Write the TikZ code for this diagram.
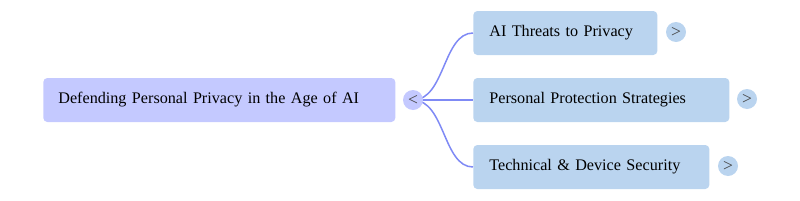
\documentclass[tikz,border=0pt]{standalone}
\usepackage{fontspec}
\setmainfont{Liberation Serif}
\usepackage{xcolor}
\definecolor{rootfill}{HTML}{C4C9FF}
\definecolor{kidfill}{HTML}{BAD4EF}
\definecolor{linkcol}{HTML}{7F8AF5}
\definecolor{signcol}{HTML}{444444}

\begin{document}
\begin{tikzpicture}[
    x=0.02cm, y=-0.02cm,
    root/.style={fill=rootfill, rounded corners=0.08cm, minimum height=0.88cm, inner xsep=0.3cm,
                 font=\fontsize{9.2}{11}\selectfont, align=left, anchor=west},
    kid/.style={fill=kidfill, rounded corners=0.08cm, minimum height=0.88cm, inner xsep=0.32cm,
                font=\fontsize{9.2}{11}\selectfont, align=left, anchor=west},
    knob/.style={circle, fill=#1, minimum size=0.4cm, inner sep=0pt, text=signcol,
                 font=\fontsize{10}{11}\selectfont},
    link/.style={draw=linkcol, line width=0.03cm}
]
    \useasboundingbox (0,0) rectangle (800,200);

    \node[root, text width=6.44cm] (r) at (43, 100) {Defending Personal Privacy in the Age of AI};

    \node[kid, text width=3.04cm] (b1) at (473, 33) {AI Threats to Privacy};
    \node[kid, text width=4.48cm] (b2) at (473, 100) {Personal Protection Strategies};
    \node[kid, text width=4.08cm] (b3) at (473, 167) {Technical \& Device Security};

    % 连线
    \coordinate (hub) at (413, 100);
    \draw[link] (hub) .. controls (445, 100) and (443, 33) .. (b1.west);
    \draw[link] (hub) -- (b2.west);
    \draw[link] (hub) .. controls (445, 100) and (443, 167) .. (b3.west);

    % 折叠按钮
    \node[knob=rootfill] (k0) at (hub) {<};
    \node[knob=kidfill] (k1) at (676, 32) {>};
    \node[knob=kidfill] (k2) at (747, 99) {>};
    \node[knob=kidfill] (k3) at (728, 166) {>};
\end{tikzpicture}
\end{document}
